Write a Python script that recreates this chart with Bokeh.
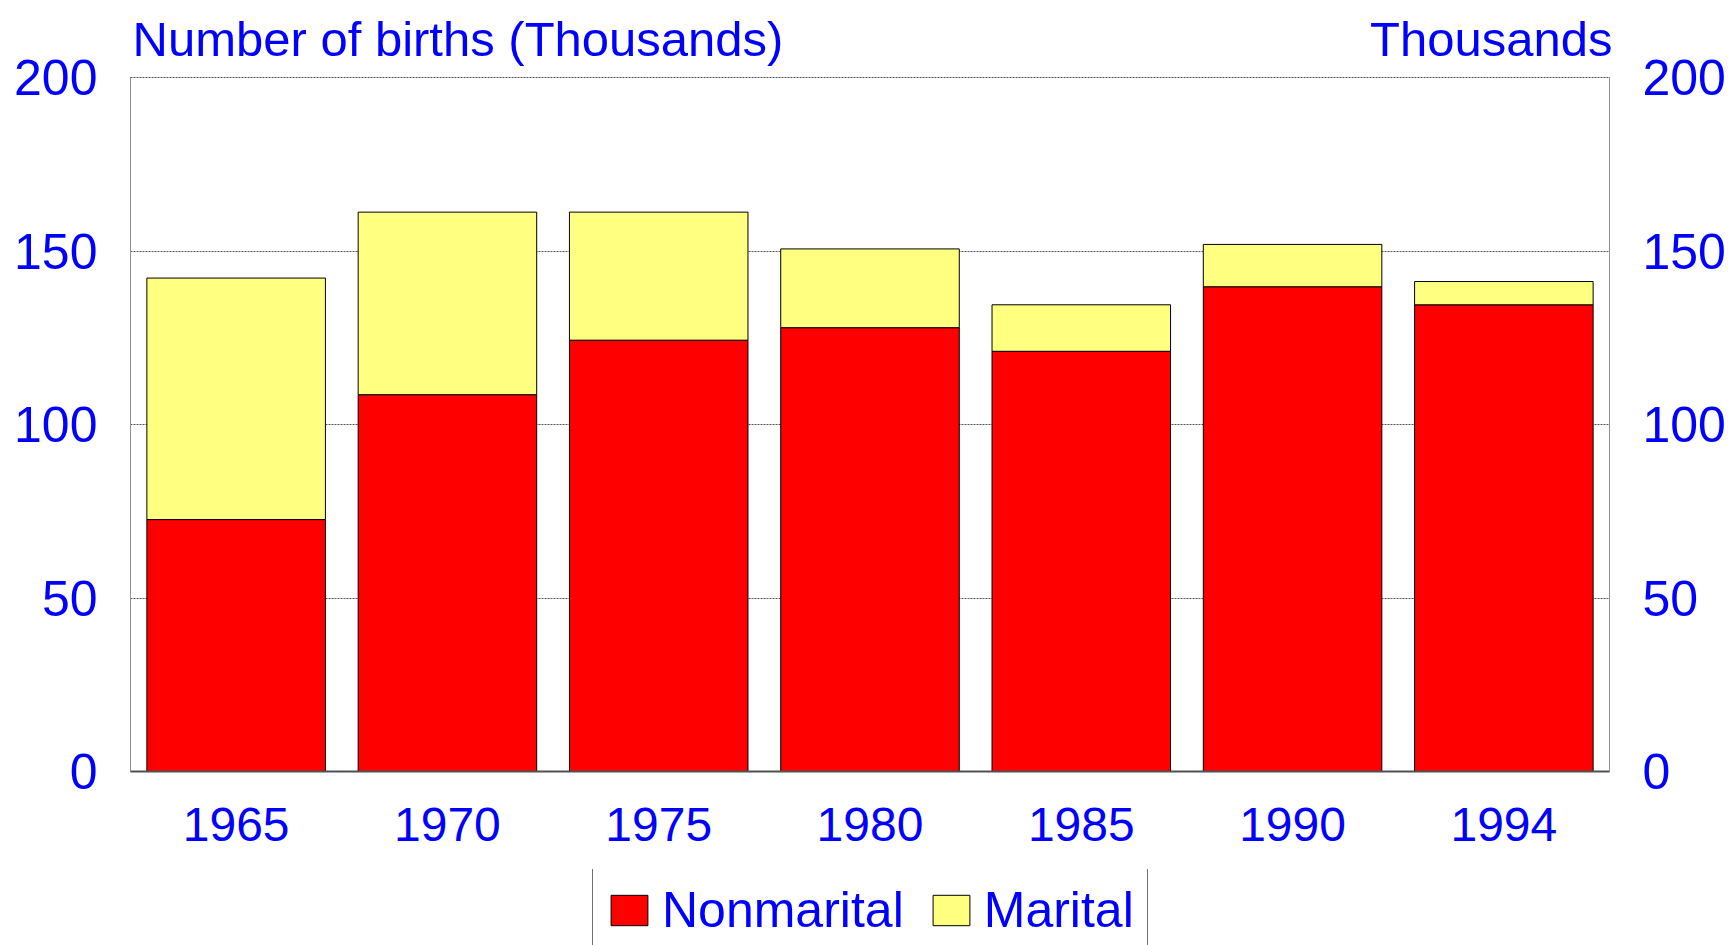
from bokeh.plotting import figure
from bokeh.layouts import column
from bokeh.models import (Range1d, LinearAxis, FixedTicker, Legend, LegendItem)
from bokeh.embed import file_html
from bokeh.resources import INLINE

years = ["1965", "1970", "1975", "1980", "1985", "1990", "1994"]
nonmarital = [72.6, 108.6, 124.3, 127.9, 121.1, 139.7, 134.5]
marital = [69.6, 52.6, 36.9, 22.7, 13.4, 12.2, 6.7]
y_ticks = [0, 50, 100, 150, 200]
series = ["Nonmarital", "Marital"]
colors = ["#FF0000", "#FFFF80"]
title_left = "Number of births (Thousands)"
title_right = "Thousands"

FONT = "Liberation Sans"
BLUE = "#0000FF"

xpos = list(range(len(years)))
data = dict(x=xpos, Nonmarital=nonmarital, Marital=marital)

p = figure(x_range=Range1d(-0.5, len(years) - 0.5), y_range=Range1d(0, 200),
           width=1728, height=869, output_backend="svg", toolbar_location=None,
           min_border_left=130, min_border_right=119, min_border_top=77,
           min_border_bottom=98, outline_line_color="#505050",
           outline_line_dash="2 1", outline_line_width=1)

rs = p.vbar_stack(series, x="x", width=0.845, source=data,
                  color=colors, line_color="black", line_width=1)

# y axes
ry = LinearAxis()
p.add_layout(ry, "right")
for ax in (p.yaxis[0], ry):
    ax.ticker = FixedTicker(ticks=y_ticks)
    ax.major_label_text_font = FONT
    ax.major_label_text_font_size = "50px"
    ax.major_label_text_color = BLUE
    ax.major_label_standoff = 33
    ax.major_tick_out = 0
    ax.major_tick_in = 0
    ax.minor_tick_out = 0
    ax.minor_tick_in = 0
    ax.axis_line_color = "#909090"
    ax.axis_line_width = 1

xa = p.xaxis[0]
xa.ticker = FixedTicker(ticks=xpos)
xa.major_label_overrides = {i: y for i, y in zip(xpos, years)}
xa.major_label_text_font = FONT
xa.major_label_text_font_size = "48px"
xa.major_label_text_color = BLUE
xa.major_label_standoff = 36
xa.major_tick_out = 0
xa.major_tick_in = 0
xa.minor_tick_out = 0
xa.minor_tick_in = 0
xa.axis_line_color = "#505050"
xa.axis_line_width = 2

p.xgrid.visible = False
p.ygrid.ticker = FixedTicker(ticks=y_ticks)
p.ygrid.grid_line_color = "#555555"
p.ygrid.grid_line_dash = "2 1"
p.ygrid.grid_line_width = 1

# header texts carried by an axis above the frame
hdr_pos = [1.05, 5.94]
hdr = LinearAxis(ticker=FixedTicker(ticks=hdr_pos),
                 major_label_overrides={hdr_pos[0]: title_left, hdr_pos[1]: title_right})
hdr.major_label_text_font = FONT
hdr.major_label_text_font_size = "49px"
hdr.major_label_text_color = BLUE
hdr.major_label_standoff = 12
hdr.major_tick_out = 0
hdr.major_tick_in = 0
hdr.minor_tick_out = 0
hdr.minor_tick_in = 0
hdr.axis_line_color = None
p.add_layout(hdr, "above")

# legend strip below the chart (its bars lie outside its visible range)
p2 = figure(x_range=Range1d(-0.5, len(years) - 0.5), y_range=Range1d(1000, 1001),
            width=1728, height=76, output_backend="svg", toolbar_location=None,
            x_axis_type=None, y_axis_type=None, min_border_left=130,
            min_border_right=119, min_border_top=0, min_border_bottom=0,
            outline_line_color=None)
p2.xgrid.visible = False
p2.ygrid.visible = False
lr = p2.vbar_stack(series, x="x", width=0.845, source=data,
                   color=colors, line_color="black", line_width=1)
legend = Legend(items=[LegendItem(label=s, renderers=[r]) for s, r in zip(series, lr)],
                location=(462, -8), orientation="horizontal",
                label_text_font=FONT, label_text_font_size="50px", label_text_color=BLUE,
                glyph_width=46, glyph_height=38, label_standoff=10, spacing=24,
                padding=13, margin=0, border_line_color="#707070",
                border_line_alpha=1, border_line_width=1,
                background_fill_color="white", background_fill_alpha=1)
p2.add_layout(legend, "center")

open("out.html", "w").write(file_html(column(p, p2, spacing=0), INLINE))
